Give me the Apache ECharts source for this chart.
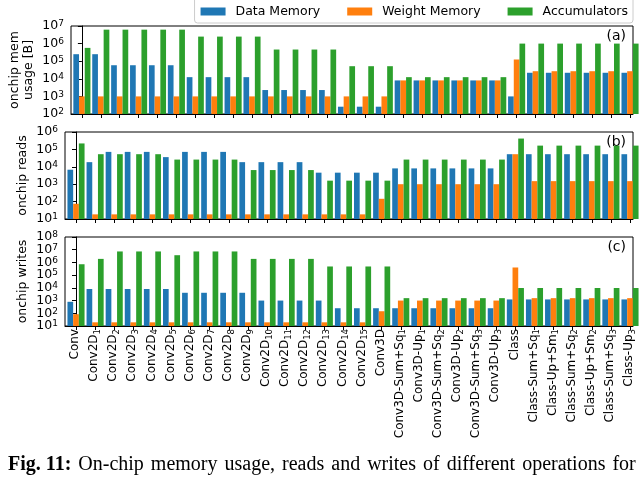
<!DOCTYPE html>
<html><head><meta charset="utf-8">
<script src="https://cdn.jsdelivr.net/npm/echarts@6/dist/echarts.min.js"></script>
<style>html,body{margin:0;padding:0;background:#fff}#c{width:640px;height:477px}</style>
</head><body><div id="c"></div><script>
const categories = ['Conv','Conv2D₁','Conv2D₂','Conv2D₃','Conv2D₄','Conv2D₅','Conv2D₆','Conv2D₇','Conv2D₈','Conv2D₉','Conv2D₁₀','Conv2D₁₁','Conv2D₁₂','Conv2D₁₃','Conv2D₁₄','Conv2D₁₅','Conv3D','Conv3D-Sum+Sq₁','Conv3D-Up₁','Conv3D-Sum+Sq₂','Conv3D-Up₂','Conv3D-Sum+Sq₃','Conv3D-Up₃','Class','Class-Sum+Sq₁','Class-Up+Sm₁','Class-Sum+Sq₂','Class-Up+Sm₂','Class-Sum+Sq₃','Class-Up₃'];
const seriesNames = ['Data Memory','Weight Memory','Accumulators'];
const seriesColors = ['#1f77b4','#ff7f0e','#2ca02c'];

// (a) onchip mem usage [B]
const usageData    = [2.5e5,2.5e5,5.9e4,5.9e4,5.9e4,5.9e4,1.24e4,1.24e4,1.24e4,1.24e4,2.3e3,2.3e3,2.3e3,2.3e3,260,260,260,8.1e3,8.1e3,8.1e3,8.1e3,8.1e3,8.1e3,1000,2.2e4,2.2e4,2.2e4,2.2e4,2.2e4,2.2e4];
const usageWeight  = [1000,1000,1000,1000,1000,1000,1000,1000,1000,1000,1000,1000,1000,1000,1000,1000,1000,8.1e3,8.1e3,8.1e3,8.1e3,8.1e3,8.1e3,1.25e5,2.7e4,2.7e4,2.7e4,2.7e4,2.7e4,2.7e4];
const usageAcc     = [5.7e5,6.2e6,6.2e6,6.2e6,6.2e6,6.2e6,2.5e6,2.5e6,2.5e6,2.5e6,4.6e5,4.6e5,4.6e5,4.6e5,5.2e4,5.2e4,5.2e4,1.24e4,1.24e4,1.24e4,1.24e4,1.24e4,1.24e4,1.0e6,1.0e6,1.0e6,1.0e6,1.0e6,1.0e6,1.0e6];
// (b) onchip reads
const readsData    = [6.8e3,1.85e4,7.2e4,7.2e4,7.2e4,3.6e4,7.2e4,7.2e4,7.2e4,1.85e4,1.85e4,1.85e4,1.85e4,4.6e3,4.6e3,4.6e3,4.6e3,8.1e3,8.1e3,8.1e3,8.1e3,8.1e3,8.1e3,5.3e4,5.3e4,5.3e4,5.3e4,5.3e4,5.3e4,5.3e4];
const readsWeight  = [75,18.5,18.5,18.5,18.5,18.5,18.5,18.5,18.5,18.5,18.5,18.5,18.5,18.5,18.5,18.5,145,1000,1000,1000,1000,1000,1000,5.3e4,1.5e3,1.5e3,1.5e3,1.5e3,1.5e3,1.5e3];
const readsAcc     = [2.2e5,5.3e4,5.3e4,5.3e4,5.3e4,2.6e4,2.6e4,2.6e4,2.6e4,6.5e3,6.5e3,6.5e3,6.5e3,1.6e3,1.6e3,1.6e3,1.6e3,2.6e4,2.6e4,2.6e4,2.6e4,2.6e4,2.6e4,4.2e5,1.65e5,1.65e5,1.65e5,1.65e5,1.65e5,1.65e5];
// (c) onchip writes
const writesData   = [800,8.1e3,8.1e3,8.1e3,8.1e3,8.1e3,4.1e3,4.1e3,4.1e3,4.1e3,1.0e3,1.0e3,1.0e3,1.0e3,250,250,250,250,250,250,250,250,250,1.23e3,1.23e3,1.23e3,1.23e3,1.23e3,1.23e3,1.23e3];
const writesWeight = [85,19.5,19.5,19.5,19.5,19.5,19.5,19.5,19.5,19.5,19.5,19.5,19.5,19.5,19.5,19.5,145,1000,1000,1000,1000,1000,1000,4.0e5,1.55e3,1.55e3,1.55e3,1.55e3,1.55e3,1.55e3];
const writesAcc    = [7.2e5,1.9e6,7.3e6,7.3e6,7.3e6,3.7e6,7.3e6,7.3e6,7.3e6,1.9e6,1.9e6,1.9e6,1.9e6,4.8e5,4.8e5,4.8e5,4.8e5,1.55e3,1.55e3,1.55e3,1.55e3,1.55e3,1.55e3,9.7e3,9.7e3,9.7e3,9.7e3,9.7e3,9.7e3,9.7e3];

const panelNames = ['onchip mem\nusage [B]','onchip reads','onchip writes'];
const panelTags = ['(a)','(b)','(c)'];
const panelMin = [1e2,1e1,1e1];
const panelMax = [1e7,1e6,1e8];
const panelSeries = [[usageData,usageWeight,usageAcc],[readsData,readsWeight,readsAcc],[writesData,writesWeight,writesAcc]];
const captionBold = 'Fig. 11:';
const captionText = 'On-chip memory usage, reads and writes of different operations for';

const gridTop = [26,132,237];
const gridHeight = [88,87,89];
const tickIdx = categories.map((c,i)=>i);
const FONT = 'DejaVu Sans';
const SUBS = '₀₁₂₃₄₅₆₇₈₉';

function catLabel(name){
  const m = name.match(/^(.*?)([₀-₉]+)$/);
  if(!m) return '{n|'+name+'}';
  const digits = m[2].split('').map(ch=>SUBS.indexOf(ch)).join('');
  return '{n|'+m[1]+'}{sub|'+digits+'}';
}
const powRich = {b:{fontSize:12.5,fontFamily:FONT,color:'#000',lineHeight:13,verticalAlign:'bottom'},
                 s:{fontSize:9,fontFamily:FONT,color:'#000',lineHeight:8,verticalAlign:'top'}};
function powLabel(parity){
  return v=>{const e=Math.round(Math.log10(v)); return (e%2===parity)?'{b|10}{s|'+e+'}':'';};
}

const grids = [], xAxes = [], yAxes = [], series = [], graphics = [];
for (let p=0;p<3;p++){
  grids.push({left:65,right:7,top:gridTop[p],height:gridHeight[p],show:true,borderColor:'#000',borderWidth:1,backgroundColor:'transparent'});
  xAxes.push({
    type:'value',gridIndex:p,min:-0.576,max:29.157,
    axisLine:{show:true,onZero:false,lineStyle:{color:'#000',width:1}},
    axisTick:{show:true,customValues:tickIdx,length:4,lineStyle:{color:'#000'}},
    axisLabel:{show:p===2,customValues:tickIdx,rotate:90,margin:3,color:'#000',
      formatter:v=>catLabel(categories[Math.round(v)]),
      rich:{n:{fontSize:12,fontFamily:FONT,color:'#000',lineHeight:14,verticalAlign:'top'},
            sub:{fontSize:8.5,fontFamily:FONT,color:'#000',lineHeight:8,verticalAlign:'bottom'}}},
    splitLine:{show:false}
  });
  // primary log axis: line, ticks, name, even-exponent labels
  yAxes.push({
    type:'log',gridIndex:p,logBase:10,min:panelMin[p],max:panelMax[p],interval:1,position:'left',
    name:panelNames[p],nameLocation:'middle',nameGap:35,nameMoveOverlap:false,
    nameTextStyle:{fontSize:12.5,fontFamily:FONT,color:'#000',lineHeight:14},
    axisLine:{show:true,lineStyle:{color:'#000'}},
    axisTick:{show:true,length:4,lineStyle:{color:'#000'}},
    minorTick:{show:false},splitLine:{show:false},
    axisLabel:{margin:7,color:'#000',showMinLabel:true,showMaxLabel:true,formatter:powLabel(0),rich:powRich}
  });
  // companion log axis on same side: odd-exponent labels only
  yAxes.push({
    type:'log',gridIndex:p,logBase:10,min:panelMin[p],max:panelMax[p],interval:1,position:'left',offset:0,
    axisLine:{show:false},axisTick:{show:false},minorTick:{show:false},splitLine:{show:false},
    axisLabel:{margin:7,color:'#000',showMinLabel:true,showMaxLabel:true,formatter:powLabel(1),rich:powRich}
  });
  for (let s=0;s<3;s++){
    series.push({
      type:'bar',name:seriesNames[s],xAxisIndex:p,yAxisIndex:2*p,
      data:panelSeries[p][s].map((v,j)=>[j,v]),
      barWidth:5.7,barGap:'0%',clip:true,
      itemStyle:{color:seriesColors[s]}
    });
  }
  graphics.push({type:'text',right:14,top:gridTop[p]+3,style:{text:panelTags[p],fontSize:14,fontFamily:FONT,fill:'#000'}});
}
const capWords = captionText.split(' ');
graphics.push({type:'text',left:8,top:455,style:{
  text:'{b|'+captionBold+'}{sp| }'+capWords.join('{sp| }'),
  fontSize:20,fontFamily:'Liberation Serif',fill:'#000',
  rich:{b:{fontWeight:'bold',fontSize:20,fontFamily:'Liberation Serif',fill:'#000'},
        sp:{width:7,fontSize:20,fontFamily:'Liberation Serif'}}}});

const chart = echarts.init(document.getElementById('c'),null,{renderer:'canvas'});
chart.setOption({
  animation:false,
  backgroundColor:'#fff',
  legend:{data:seriesNames,right:7,top:-3,icon:'rect',itemWidth:25,itemHeight:8,itemGap:27,
    padding:[8,5,5,6],borderColor:'#ccc',borderWidth:1,borderRadius:3,backgroundColor:'#fff',
    textStyle:{fontSize:12.5,fontFamily:FONT,color:'#000',padding:[0,0,0,5]}},
  grid:grids,xAxis:xAxes,yAxis:yAxes,series:series,graphic:graphics
});
</script></body></html>
